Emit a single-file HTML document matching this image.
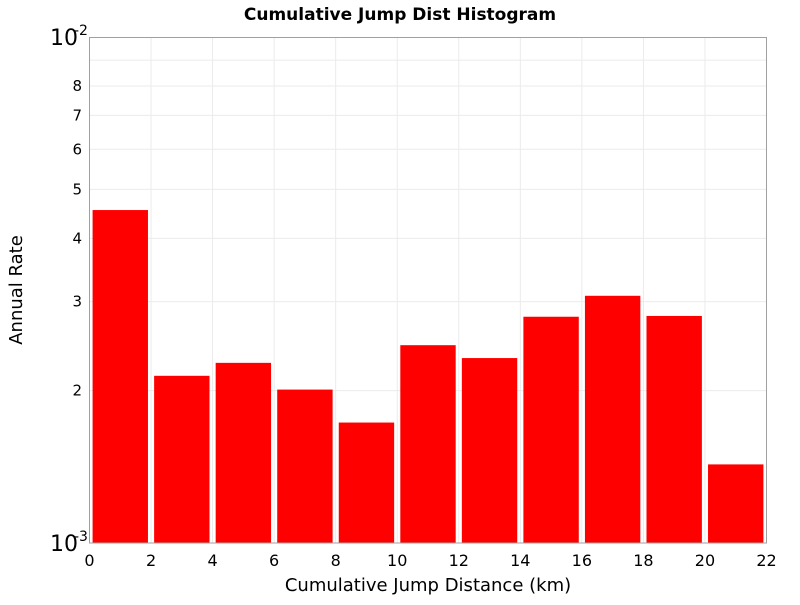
<!DOCTYPE html>
<html><head><meta charset="utf-8"><style>
body{margin:0;background:#fff;font-family:"Liberation Sans","DejaVu Sans",sans-serif}
</style></head><body>
<svg id="chart" width="800" height="600" xmlns="http://www.w3.org/2000/svg">
<text x="400" y="20" text-anchor="middle" font-family="DejaVu Sans, sans-serif" font-weight="bold" font-size="17">Cumulative Jump Dist Histogram</text>
<g id="grid"></g>
<g id="bars"></g>
<rect x="89.5" y="37.5" width="677" height="505.5" fill="none" stroke="#a0a0a0"/>
<g id="xt"></g>
<g id="yt"></g>
<text x="428" y="591" text-anchor="middle" font-family="DejaVu Sans, sans-serif" font-size="18">Cumulative Jump Distance (km)</text>
<text transform="translate(22,290) rotate(-90)" text-anchor="middle" font-family="DejaVu Sans, sans-serif" font-size="18">Annual Rate</text>
</svg>
<script>
const binStarts=[0,2,4,6,8,10,12,14,16,18,20];
const rates=[0.00455,0.00214,0.00227,0.00201,0.00173,0.00246,0.00232,0.00280,0.00308,0.00281,0.00143];
const xTicks=[0,2,4,6,8,10,12,14,16,18,20,22];
const yMinor=[2,3,4,5,6,7,8,9];
const NS="http://www.w3.org/2000/svg";
const L=89.5,R=766.5,T=37,B=543;
const xs=v=>L+(v/22)*(R-L);
const ys=v=>B-Math.log10(v/1e-3)*(B-T);
function mk(t,a,p){const e=document.createElementNS(NS,t);for(const k in a)e.setAttribute(k,a[k]);p.appendChild(e);return e;}
const grid=document.getElementById('grid'),bars=document.getElementById('bars'),xt=document.getElementById('xt'),yt=document.getElementById('yt');
xTicks.forEach(v=>{
  const g=mk('line',{x1:xs(v),x2:xs(v),y1:T,y2:B,stroke:'#ebebeb'},grid);
  
  
  const t=mk('text',{x:xs(v),y:566,'text-anchor':'middle','font-size':16,'font-family':'DejaVu Sans, sans-serif'},xt);
  t.textContent=v;
  
  
});
yMinor.forEach(m=>{
  const y=ys(m*1e-3);
  const g=mk('line',{x1:L,x2:R,y1:y,y2:y,stroke:'#ebebeb'},grid);
  
  
  if(m!==9){
    const t=mk('text',{x:82,y:y+5,'text-anchor':'end','font-size':15,'font-family':'DejaVu Sans, sans-serif'},yt);
    t.textContent=m;
    
    
  }
});
[[1e-2,'-2'],[1e-3,'-3']].forEach(([v,e])=>{
  const y=ys(v);
  const t=mk('text',{x:50,y:y+8,'font-size':22,'font-family':'DejaVu Sans, sans-serif'},yt);
  t.textContent='10';
  
  
  const s=mk('text',{x:74,y:y-2,'font-size':14,'font-family':'DejaVu Sans, sans-serif'},yt);
  s.textContent=e;
  
  
});
binStarts.forEach((s,i)=>{
  const x0=xs(s+0.1),x1=xs(s+1.9),y=ys(rates[i]);
  const r=mk('rect',{x:x0,y:y,width:x1-x0,height:B-y,fill:'#ff0000'},bars);
  
  
});
</script>
</body></html>
